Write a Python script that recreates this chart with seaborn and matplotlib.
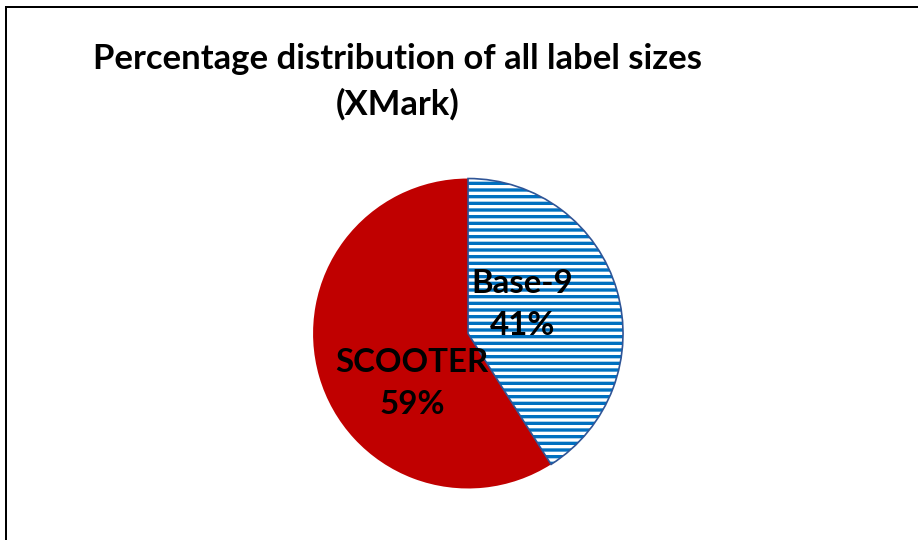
import matplotlib.pyplot as plt
import seaborn as sns
from matplotlib.patches import Rectangle

sns.set_theme(style="white")
plt.rcParams['font.family'] = ['Lato', 'DejaVu Sans']
plt.rcParams['text.color'] = 'black'
plt.rcParams['hatch.linewidth'] = 2.0

# data
labels = ["Base-9", "SCOOTER"]
shares = [41, 59]
title = "Percentage distribution of all label sizes\n(XMark)"

red = "#C00000"
blue = "#0070C0"
outline = "#2F5597"

# 918x540 px at dpi 120
fig = plt.figure(figsize=(7.65, 4.5), dpi=120)
ax = fig.add_axes([0.341, 0.0954, 0.3377, 0.574])

wedges, _ = ax.pie(shares, startangle=90, counterclock=False,
                   colors=["white", red], radius=1.0,
                   wedgeprops=dict(linewidth=0))
# hatch on Base-9 wedge (hatch colour follows edgecolor)
wedges[0].set_edgecolor(blue)
wedges[0].set_hatch("---")
wedges[0].set_linewidth(0)

# outline of the Base-9 wedge only
outl, _ = ax.pie(shares, startangle=90, counterclock=False, radius=1.0,
                 wedgeprops=dict(fill=False, linewidth=1.0))
outl[0].set_edgecolor(outline)
outl[1].set_edgecolor("none")

# slice labels
label_pos = [(0.35, 0.185), (-0.36, -0.325)]
for lab, v, (x, y) in zip(labels, shares, label_pos):
    ax.text(x, y, f"{lab}\n{v}%", ha="center", va="center",
            fontsize=19.8, fontweight="bold", color="black", linespacing=1.55)

ax.set_xlim(-1, 1)
ax.set_ylim(-1, 1)
ax.set_aspect("equal")
ax.axis("off")

fig.text(397.5 / 918, 1 - 82 / 540, title, ha="center", va="center",
         fontsize=20.8, fontweight="bold", linespacing=1.5)

# chart area border
fig.add_artist(Rectangle((6 / 918, -0.1), 1.2, 1.1 - 7 / 540,
                         transform=fig.transFigure, fill=False,
                         edgecolor="black", linewidth=1.2))

fig.savefig("out.png", dpi=120)
